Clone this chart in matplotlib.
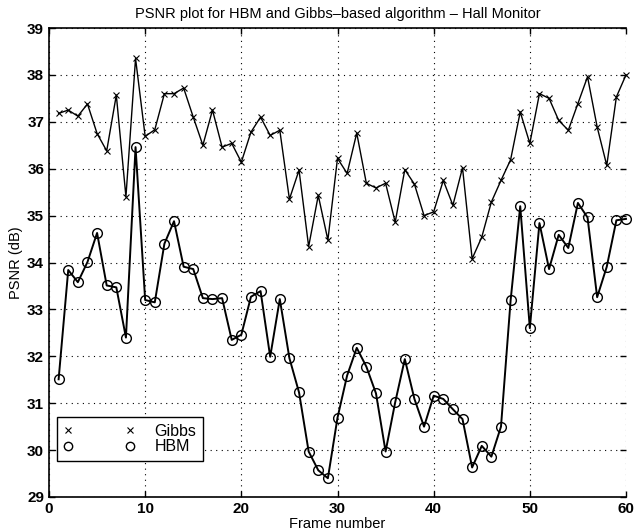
import matplotlib
matplotlib.use("Agg")
import matplotlib.pyplot as plt
from matplotlib.lines import Line2D

plt.rcParams['font.family'] = ['Liberation Sans', 'DejaVu Sans']

frames = list(range(1, 61))
gibbs = [37.18, 37.25, 37.12, 37.38, 36.75, 36.38, 37.57, 35.40, 38.35, 36.69,
         36.83, 37.60, 37.60, 37.72, 37.10, 36.50, 37.25, 36.46, 36.54, 36.14,
         36.78, 37.10, 36.71, 36.82, 35.35, 35.97, 34.34, 35.43, 34.48, 36.22,
         35.90, 36.76, 35.69, 35.59, 35.69, 34.86, 35.98, 35.67, 35.00, 35.08,
         35.75, 35.22, 36.02, 34.08, 34.54, 35.29, 35.75, 36.19, 37.21, 36.54,
         37.60, 37.50, 37.03, 36.82, 37.39, 37.96, 36.89, 36.07, 37.53, 38.00]
hbm = [31.51, 33.84, 33.58, 34.01, 34.63, 33.51, 33.47, 32.40, 36.46, 33.20,
       33.15, 34.40, 34.88, 33.91, 33.86, 33.24, 33.22, 33.24, 32.35, 32.46,
       33.27, 33.39, 31.99, 33.22, 31.96, 31.23, 29.97, 29.57, 29.40, 30.69,
       31.59, 32.18, 31.78, 31.21, 29.97, 31.02, 31.94, 31.09, 30.50, 31.16,
       31.09, 30.87, 30.66, 29.63, 30.09, 29.86, 30.50, 33.19, 35.20, 32.60,
       34.84, 33.86, 34.59, 34.31, 35.27, 34.96, 33.26, 33.91, 34.90, 34.93]

title = "PSNR plot for HBM and Gibbs\u2013based algorithm \u2013 Hall Monitor"
xlabel = "Frame number"
ylabel = "PSNR (dB)"

fig = plt.figure(figsize=(6.35, 5.32), dpi=100)
L, R, T, B = 49, 626, 28, 497
ax = fig.add_axes([L/635, 1-B/532, (R-L)/635, (B-T)/532])

ax.plot(frames, gibbs, color='black', lw=1.0, marker='x', ms=4, mew=0.8, clip_on=False)
ax.plot(frames, hbm, color='black', lw=1.4, marker='o', ms=7, mfc='none', mew=1.0, clip_on=False)

ax.set_xlim(0, 60)
ax.set_ylim(29, 39)
ax.set_xticks(range(0, 61, 10))
ax.set_yticks(range(29, 40))
ax.grid(True, linestyle=(0, (1, 4)), color='black', lw=0.8)
ax.tick_params(direction='in', top=True, right=True, length=4, labelsize=11, width=1)
for lab in ax.get_xticklabels() + ax.get_yticklabels():
    lab.set_fontweight('bold')
for s in ['left', 'bottom', 'top']:
    ax.spines[s].set_linewidth(1.2)
ax.spines['right'].set_visible(False)

ax.set_title(title, fontsize=10.5, pad=7)
ax.set_xlabel(xlabel, fontsize=10.5, labelpad=1)
ax.set_ylabel(ylabel, fontsize=10.5, labelpad=3)

h1 = Line2D([], [], color='black', lw=0, marker='x', ms=4, mew=0.8)
h2 = Line2D([], [], color='black', lw=0, marker='o', ms=6, mfc='none', mew=1.0)
leg = ax.legend([h1, h2], ['Gibbs', 'HBM'], loc='lower left',
                bbox_to_anchor=(0.0, 0.06), numpoints=2, handlelength=4.5,
                fontsize=11.5, fancybox=False, framealpha=1, edgecolor='black',
                borderpad=0.4, labelspacing=0.05, handletextpad=1.2)
leg.get_frame().set_linewidth(1.0)

fig.savefig('out.png', dpi=100)
